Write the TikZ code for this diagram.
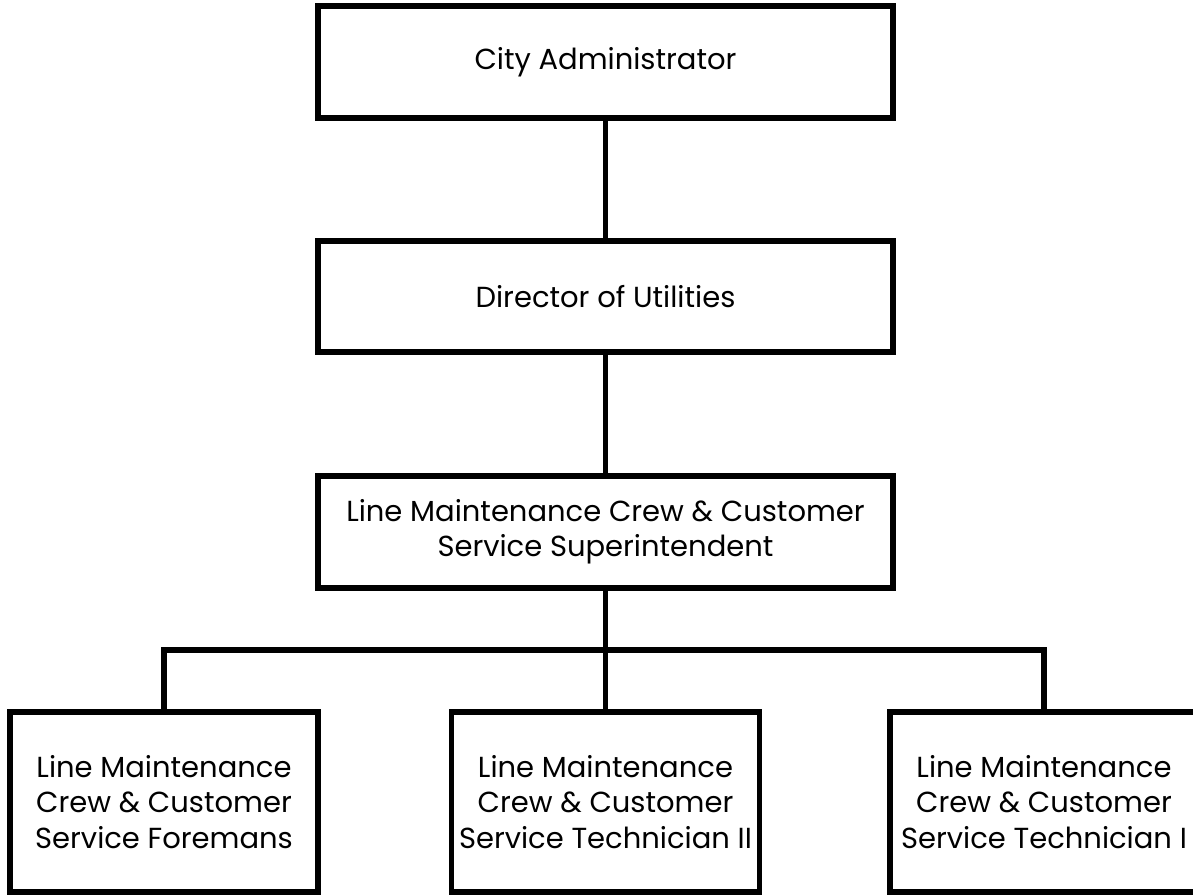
\documentclass[tikz,border=0pt]{standalone}
\usepackage{fontspec}
\setmainfont{Poppins}
\usepackage{tikz}

\begin{document}
\begin{tikzpicture}[
	post/.style={draw, line width=3.4pt, align=center, inner sep=0pt,
		font=\fontsize{16.5}{20}\selectfont, minimum width=11.5cm, minimum height=2.23cm},
	staff/.style={post, minimum width=6.16cm, minimum height=3.6cm},
	link/.style={line width=3.4pt}
]
	\useasboundingbox (0, 0) rectangle (23.86, -17.92);
	% chain of command
	\node[post] (cityadmin) at (12.11, -1.24) {City Administrator};
	\node[post] (director) at (12.11, -5.93) {Director of Utilities};
	\node[post] (super) at (12.11, -10.64) {Line Maintenance Crew \& Customer\\Service Superintendent};
	% crew level
	\node[staff] (foreman) at (3.28, -16.04) {Line Maintenance\\Crew \& Customer\\Service Foremans};
	\node[staff] (techtwo) at (12.11, -16.04) {Line Maintenance\\Crew \& Customer\\Service Technician II};
	\node[staff] (techone) at (20.88, -16.04) {Line Maintenance\\Crew \& Customer\\Service Technician I};
	\coordinate (bus) at (12.11, -13);
	\draw[link] (cityadmin) -- (director);
	\draw[link] (director) -- (super);
	\draw[link] (super) -- (bus);
	\draw[link] (foreman) |- (bus) -| (techone);
	\draw[link] (bus) -- (techtwo);
\end{tikzpicture}
\end{document}
